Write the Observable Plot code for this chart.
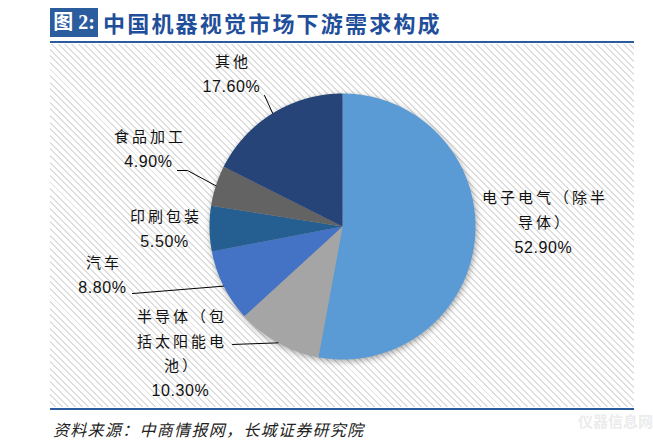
<!DOCTYPE html>
<html><head><meta charset="utf-8">
<script src="https://cdn.jsdelivr.net/npm/d3@7"></script>
<script src="https://cdn.jsdelivr.net/npm/@observablehq/plot@0.6"></script>
<style>
body{margin:0;background:#fff;width:653px;height:448px;position:relative;overflow:hidden;font-family:"Noto Sans CJK SC",sans-serif;}
#badge{position:absolute;left:50px;top:8px;width:48px;height:29px;background:#2B5C9E;color:#fff;font-weight:bold;font-size:20px;line-height:29px;text-align:center;font-family:"Liberation Serif","Noto Sans CJK SC",serif;}
#title{position:absolute;left:103px;top:6px;font-size:22px;font-weight:bold;color:#1F4E9A;line-height:32px;letter-spacing:2.2px;white-space:nowrap;}
.rule{position:absolute;left:50px;width:584px;height:2px;background:#2B5C9E;}
#chart{position:absolute;left:50px;top:44px;width:584px;height:363px;background:repeating-linear-gradient(45deg,#fff 0 3.3px,#dedede 3.3px 4.7px);}
#source{position:absolute;left:53px;top:417px;font-size:16px;font-style:italic;color:#222;letter-spacing:1.3px;white-space:nowrap;}
#wm{position:absolute;left:578px;top:410px;font-size:15px;font-weight:bold;color:#ececec;white-space:nowrap;}
</style></head>
<body>
<div id="badge">图 2:</div>
<div id="title">中国机器视觉市场下游需求构成</div>
<div class="rule" style="top:41px"></div>
<div id="chart"></div>
<div class="rule" style="top:408px"></div>
<div id="source">资料来源：中商情报网，长城证券研究院</div>
<div id="wm">仪器信息网</div>
<script>
// ---- data ----
const categories = ["电子电气（除半导体）","半导体（包括太阳能电池）","汽车","印刷包装","食品加工","其他"];
const shares = [52.9, 10.3, 8.8, 5.5, 4.9, 17.6];
const colors = ["#5B9BD5","#A5A5A5","#4472C4","#255E91","#636363","#264478"];

// ---- layout (pie radius units) ----
const W = 584, H = 363, R = 133, CX = 292, CY = 182;
const labelLayout = {
  "电子电气（除半导体）":     {x: 1.511, y: 0.211, wrap: 7, leader: null},
  "半导体（包括太阳能电池）": {x: -1.218, y: -0.684, wrap: 5, leader: [[-0.827, -0.887]]},
  "汽车":                     {x: -1.805, y: -0.278, wrap: 5, leader: [[-1.579, -0.504]]},
  "印刷包装":                 {x: -1.338, y: 0.068, wrap: 5, leader: null},
  "食品加工":                 {x: -1.459, y: 0.669, wrap: 5, leader: [[-1.165, 0.421], [-1.241, 0.421]]},
  "其他":                     {x: -0.835, y: 1.233, wrap: 5, leader: [[-0.586, 0.985]]}
};
const lineStep = 24.5 / R;

const data = categories.map((c, i) => ({cat: c, value: shares[i]}));
const arcs = d3.pie().sort(null).value(d => d.value)(data);

const slicePts = [];
arcs.forEach(p => {
  const c = p.data.cat;
  const n = Math.max(2, Math.ceil((p.endAngle - p.startAngle) / 0.005));
  slicePts.push({cat: c, x: 0, y: 0});
  for (let i = 0; i <= n; i++) {
    const a = p.startAngle + (p.endAngle - p.startAngle) * i / n;
    slicePts.push({cat: c, x: Math.sin(a), y: Math.cos(a)});
  }
  slicePts.push({cat: c, x: 0, y: 0});
});

const leaderPts = [];
const textRows = [];
const fmt = v => d3.format(".2f")(v) + "%";
arcs.forEach(p => {
  const c = p.data.cat, L = labelLayout[c];
  const mid = (p.startAngle + p.endAngle) / 2;
  if (L.leader) {
    leaderPts.push({cat: c, x: Math.sin(mid), y: Math.cos(mid)});
    L.leader.forEach(([x, y]) => leaderPts.push({cat: c, x, y}));
  }
  const lines = [];
  for (let i = 0; i < c.length; i += L.wrap) lines.push(c.slice(i, i + L.wrap));
  lines.forEach((t, i) => textRows.push({text: t, x: L.x, y: L.y - i * lineStep, kind: "name"}));
  textRows.push({text: fmt(p.data.value), x: L.x, y: L.y - lines.length * lineStep, kind: "value"});
});

const plot = Plot.plot({
  width: W, height: H, margin: 0,
  x: {domain: [-CX / R, (W - CX) / R], axis: null},
  y: {domain: [-(H - CY) / R, CY / R], axis: null},
  color: {domain: categories, range: colors},
  style: {background: "transparent", overflow: "visible"},
  marks: [
    Plot.line(slicePts, {x: "x", y: "y", z: "cat", fill: "cat", stroke: "none", curve: "linear"}),
    Plot.line(leaderPts, {x: "x", y: "y", z: "cat", stroke: "#000", strokeWidth: 1}),
    Plot.text(textRows.filter(d => d.kind === "name"), {x: "x", y: "y", text: "text", fontSize: 15, fill: "#111", fontFamily: "Noto Sans CJK SC", dx: 1.5}),
    Plot.text(textRows.filter(d => d.kind === "value"), {x: "x", y: "y", text: "text", fontSize: 16, fill: "#111", fontFamily: "Liberation Sans"})
  ]
});
const lineGroups = plot.querySelectorAll('g[aria-label="line"]');
if (lineGroups[0]) lineGroups[0].style.filter = "drop-shadow(1px 2px 3px rgba(0,0,0,0.35))";
const textGroups = plot.querySelectorAll('g[aria-label="text"]');
if (textGroups[0]) textGroups[0].setAttribute("letter-spacing", "3");
if (textGroups[1]) textGroups[1].setAttribute("letter-spacing", "0.6");
document.getElementById("chart").append(plot);
</script>
</body></html>
